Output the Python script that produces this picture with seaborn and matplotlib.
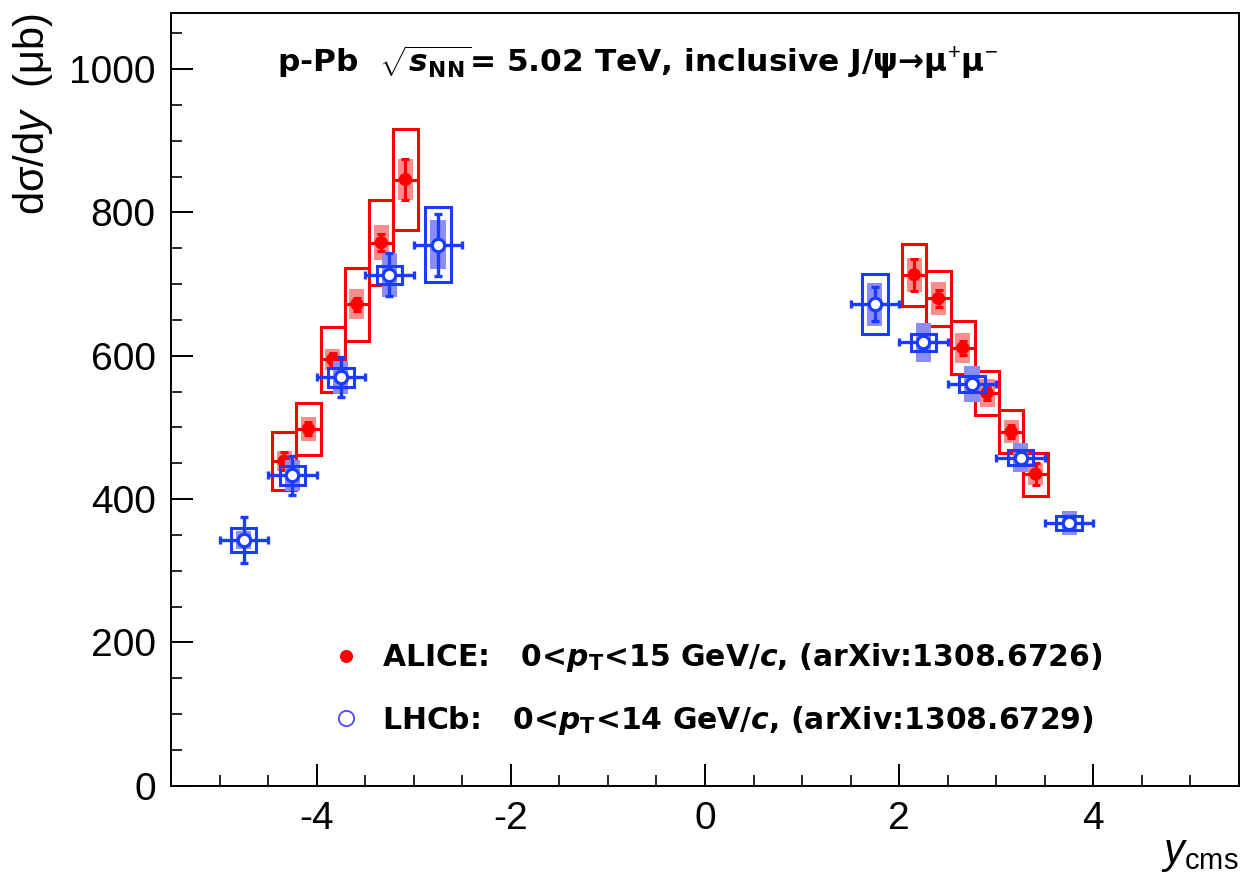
import numpy as np
import seaborn as sns
import matplotlib.pyplot as plt
from matplotlib.ticker import MultipleLocator
from matplotlib.lines import Line2D

# ALICE, backward and forward rapidity bins (width 0.25)
alice_y = [-4.335, -4.085, -3.835, -3.585, -3.335, -3.085,
           2.155, 2.405, 2.655, 2.905, 3.155, 3.405]
alice_val = [453, 498, 595, 672, 758, 846,
             713, 680, 611, 548, 494, 435]
alice_stat = [13, 9, 9, 9, 12, 28,
              22, 12, 10, 9, 9, 15]
alice_sys = [40, 36, 45, 51, 59, 71,
             43, 39, 37, 31, 30, 30]
alice_corr = [14, 17, 15, 21, 25, 29,
              24, 23, 21, 19, 16, 16]
alice_halfwidth = 0.125

# LHCb, bins of width 0.5
lhcb_y = [-4.75, -4.25, -3.75, -3.25, -2.75,
          1.75, 2.25, 2.75, 3.25, 3.75]
lhcb_val = [343, 433, 570, 713, 755,
            672, 619, 561, 458, 367]
lhcb_stat = [32, 27, 28, 30, 43,
             24, 10, 9, 8, 6]
lhcb_sys = [17, 13, 13, 13, 52,
            42, 12, 11, 10, 10]
lhcb_corr = [12, 22, 23, 31, 34,
             30, 27, 25, 20, 17]
lhcb_halfwidth = 0.25

alice_label = r'ALICE:   0<$\mathsf{p}_{\mathbf{T}}$<15 GeV/$\mathsf{c}$, (arXiv:1308.6726)'
lhcb_label = r'LHCb:   0<$\mathsf{p}_{\mathbf{T}}$<14 GeV/$\mathsf{c}$, (arXiv:1308.6729)'

sns.set_theme(style="ticks")
plt.rcParams['font.family'] = ['Liberation Sans', 'DejaVu Sans']
plt.rcParams['text.color'] = 'black'
plt.rcParams['axes.labelcolor'] = 'black'
plt.rcParams['axes.unicode_minus'] = False
plt.rcParams['mathtext.fontset'] = 'custom'
plt.rcParams['mathtext.rm'] = 'Liberation Sans'
plt.rcParams['mathtext.it'] = 'Liberation Sans:italic'
plt.rcParams['mathtext.bf'] = 'DejaVu Sans:bold'
plt.rcParams['mathtext.sf'] = 'DejaVu Sans:bold:italic'

red = '#ff0000'
red_light = '#fa8c8c'
blue = '#1a3cff'
blue_light = '#8c8cf5'

fig = plt.figure(figsize=(12.41, 8.81), dpi=100)
ax = fig.add_axes([171 / 1241, 1 - 785.7 / 881, 1068 / 1241, 772.4 / 881])

a_y = np.array(alice_y)
a_v = np.array(alice_val)
l_y = np.array(lhcb_y)
l_v = np.array(lhcb_val)

# ALICE: correlated syst (shaded), uncorrelated syst (open boxes), stat
ax.bar(a_y, 2 * np.array(alice_corr), width=0.155, bottom=a_v - alice_corr,
       color=red_light, linewidth=0, zorder=2)
ax.bar(a_y, 2 * np.array(alice_sys), width=2 * alice_halfwidth, bottom=a_v - alice_sys,
       fill=False, edgecolor=red, linewidth=2.2, zorder=3)
ax.errorbar(a_y, a_v, xerr=alice_halfwidth, fmt='none', ecolor=red,
            elinewidth=2.2, capsize=0, zorder=4)
ax.errorbar(a_y, a_v, yerr=alice_stat, fmt='none', ecolor=red,
            elinewidth=2.2, capsize=2.8, capthick=2.2, zorder=4)
sns.scatterplot(x=a_y, y=a_v, color=red, s=90, edgecolor='none', zorder=5, ax=ax)

# LHCb
ax.bar(l_y, 2 * np.array(lhcb_corr), width=0.155, bottom=l_v - lhcb_corr,
       color=blue_light, linewidth=0, zorder=6)
ax.bar(l_y, 2 * np.array(lhcb_sys), width=0.26, bottom=l_v - lhcb_sys,
       fill=False, edgecolor=blue, linewidth=2.2, zorder=7)
ax.errorbar(l_y, l_v, xerr=lhcb_halfwidth, yerr=lhcb_stat, fmt='none', ecolor=blue,
            elinewidth=2.4, capsize=2.8, capthick=2.4, zorder=8)
sns.scatterplot(x=l_y, y=l_v, color='white', s=80, edgecolor=blue, linewidth=2.3,
                zorder=9, ax=ax)

ax.set_xlim(-5.5, 5.5)
ax.set_ylim(0, 1078)
ax.xaxis.set_major_locator(MultipleLocator(2))
ax.xaxis.set_minor_locator(MultipleLocator(0.5))
ax.yaxis.set_major_locator(MultipleLocator(200))
ax.yaxis.set_minor_locator(MultipleLocator(50))
ax.tick_params(which='major', direction='in', length=15.8, width=1.4,
               labelsize=28, pad=11, colors='black', top=False, right=False)
ax.tick_params(which='minor', direction='in', length=8, width=1.4,
               top=False, right=False)
for s in ax.spines.values():
    s.set_linewidth(1.4)
    s.set_color('black')

ax.set_xlabel(r'$y_{\mathrm{cms}}$', fontsize=30, loc='right')
ax.xaxis.set_label_coords(1.0, -0.062)
ax.set_ylabel(r'dσ/d$y$  (μb)', fontsize=30, loc='top')
ax.yaxis.set_label_coords(-0.109, 1.0)

ax.text(0.0993, 0.924,
        r'p-Pb  $\sqrt{\mathsf{s}_{\mathbf{NN}}}$= 5.02 TeV, inclusive J/ψ→μ$^{+}$μ$^{-}$',
        transform=ax.transAxes, fontsize=22.5, fontweight='bold', va='baseline', ha='left',
        family=['DejaVu Sans'])

handles = [
    Line2D([], [], linestyle='none', marker='o', markersize=9.4,
           markerfacecolor=red, markeredgecolor='none'),
    Line2D([], [], linestyle='none', marker='o', markersize=11,
           markerfacecolor='white', markeredgecolor='#4a4aff', markeredgewidth=1.3),
]
ax.legend(handles, [alice_label, lhcb_label], loc='upper left',
          bbox_to_anchor=(0.1495, 0.187), frameon=False, borderpad=0,
          borderaxespad=0, handlelength=1.0, handletextpad=0.73,
          labelspacing=0.98, prop={'weight': 'bold', 'size': 21.5, 'family': 'DejaVu Sans'})

fig.savefig('out.png', dpi=100)
